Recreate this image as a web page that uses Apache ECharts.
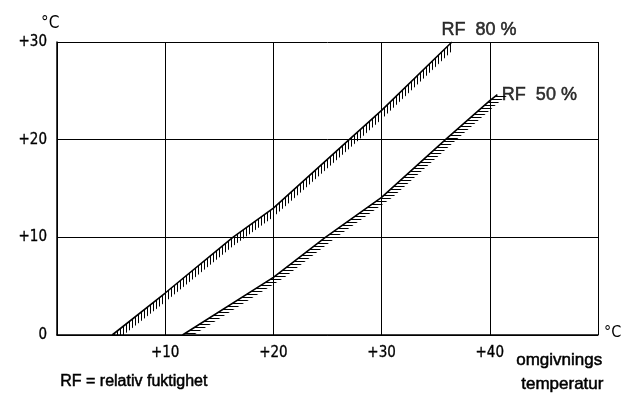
<!DOCTYPE html>
<html><head><meta charset="utf-8">
<script src="https://cdn.jsdelivr.net/npm/echarts@6/dist/echarts.min.js"></script>
<style>html,body{margin:0;padding:0;background:#fff}#c{width:637px;height:399px}</style>
</head><body><div id="c"></div>
<script>
// Ambient temperature (°C) and corresponding limit surface temperature (°C)
const temp80 = [5.1, 10, 16.25, 20, 27.0, 30, 36.5];
const dew80  = [0, 4.3, 10, 13.0, 20, 23.0, 30];
const temp50 = [11.6, 20, 24.8, 30, 35.9, 40, 40.7];
const dew50  = [0, 5.9, 10, 14.1, 20, 24.0, 24.6];
const xTicks = ['', '+10', '+20', '+30', '+40', ''];
const yTicks = ['0', '+10', '+20', '+30'];
const label80 = 'RF  80 %';
const label50 = 'RF  50 %';
const noteText = 'RF = relativ fuktighet';
const xTitle1 = 'omgivnings';
const xTitle2 = 'temperatur';

function pattern(vertical) {
  const c = document.createElement('canvas');
  c.width = 3; c.height = 3;
  const g = c.getContext('2d');
  g.fillStyle = '#000';
  if (vertical) g.fillRect(0, 0, 1, 3); else g.fillRect(0, 0, 3, 1);
  return c;
}
const patV = pattern(true), patH = pattern(false);

function pts(xs, ys) { return xs.map((x, i) => [x, ys[i]]); }
function segs(xs, ys) {
  const out = [];
  for (let i = 0; i < xs.length - 1; i++) out.push([xs[i], ys[i], xs[i + 1], ys[i + 1]]);
  return out;
}
function hatchSeries(xs, ys, vertical) {
  return {
    type: 'custom', clip: true, silent: true, z: 1,
    data: segs(xs, ys),
    renderItem(params, api) {
      const p0 = api.coord([api.value(0), api.value(1)]);
      const p1 = api.coord([api.value(2), api.value(3)]);
      const poly = vertical
        ? [p0, p1, [p1[0], p1[1] + 9], [p0[0], p0[1] + 9]]
        : [p0, p1, [p1[0] + 11, p1[1]], [p0[0] + 11, p0[1]]];
      return { type: 'polygon', shape: { points: poly },
        style: { fill: { image: vertical ? patV : patH, repeat: 'repeat' }, stroke: null } };
    }
  };
}

const tickFont = 'DejaVu Sans Condensed, DejaVu Sans';
const textFont = 'Liberation Sans, Arial';
const heavy = { textBorderColor: '#000', textBorderWidth: 0.5 };
const heavyG = { stroke: '#000', lineWidth: 0.5 };
const chart = echarts.init(document.getElementById('c'), null, { renderer: 'canvas' });
const last80 = pts(temp80, dew80)[temp80.length - 1];
const last50 = pts(temp50, dew50)[temp50.length - 1];
chart.setOption({
  animation: false,
  backgroundColor: '#fff',
  grid: { left: 57, right: 39, top: 42, bottom: 64 },
  xAxis: {
    type: 'value', min: 0, max: 50, interval: 10,
    name: '°C', nameLocation: 'end', nameGap: 6,
    nameTextStyle: { fontFamily: tickFont, fontSize: 16, color: '#000', verticalAlign: 'bottom', padding: [0, 0, -6, 0] },
    axisLine: { show: true, onZero: false, lineStyle: { color: '#000', width: 1.5 } },
    axisTick: { show: false },
    axisLabel: { margin: 11, fontFamily: tickFont, fontSize: 15, color: '#000',
      textBorderColor: '#000', textBorderWidth: 0.3,
      formatter: v => xTicks[Math.round(v / 10)] },
    splitLine: { show: true, lineStyle: { color: '#000', width: 1 } }
  },
  yAxis: {
    type: 'value', min: 0, max: 30, interval: 10,
    name: '°C', nameLocation: 'end', nameGap: 10,
    nameTextStyle: { fontFamily: tickFont, fontSize: 17, color: '#000', align: 'left', padding: [0, 0, 0, -16] },
    axisLine: { show: true, lineStyle: { color: '#000', width: 1.5 } },
    axisTick: { show: false },
    axisLabel: { margin: 10, fontFamily: tickFont, fontSize: 15, color: '#000',
      textBorderColor: '#000', textBorderWidth: 0.3,
      formatter: v => yTicks[Math.round(v / 10)] },
    splitLine: { show: true, lineStyle: { color: '#000', width: 1 } }
  },
  series: [
    hatchSeries(temp80, dew80, true),
    hatchSeries(temp50, dew50, false),
    { type: 'line', data: pts(temp80, dew80), symbol: 'none', z: 3,
      lineStyle: { color: '#000', width: 1.6 } },
    { type: 'line', data: pts(temp50, dew50), symbol: 'none', z: 3,
      lineStyle: { color: '#000', width: 1.6 } },
    { type: 'scatter', data: [last80], symbolSize: 1, itemStyle: { color: 'rgba(0,0,0,0)' }, z: 4,
      label: Object.assign({ show: true, position: 'top', distance: 2, offset: [27, 0], formatter: label80,
        fontFamily: textFont, fontSize: 18, color: '#000' }, heavy) },
    { type: 'scatter', data: [last50], symbolSize: 1, itemStyle: { color: 'rgba(0,0,0,0)' }, z: 4,
      label: Object.assign({ show: true, position: 'right', distance: 4, offset: [0, 0], formatter: label50,
        fontFamily: textFont, fontSize: 18, color: '#000' }, heavy) }
  ],
  graphic: [
    { type: 'text', left: 60, top: 373, style: Object.assign({ text: noteText, font: '16px "Liberation Sans", Arial', fill: '#000' }, heavyG) },
    { type: 'text', left: 516, top: 352, style: Object.assign({ text: xTitle1, font: '17px "Liberation Sans", Arial', fill: '#000' }, heavyG) },
    { type: 'text', left: 521, top: 376, style: Object.assign({ text: xTitle2, font: '17px "Liberation Sans", Arial', fill: '#000' }, heavyG) }
  ]
});
</script>
</body></html>
